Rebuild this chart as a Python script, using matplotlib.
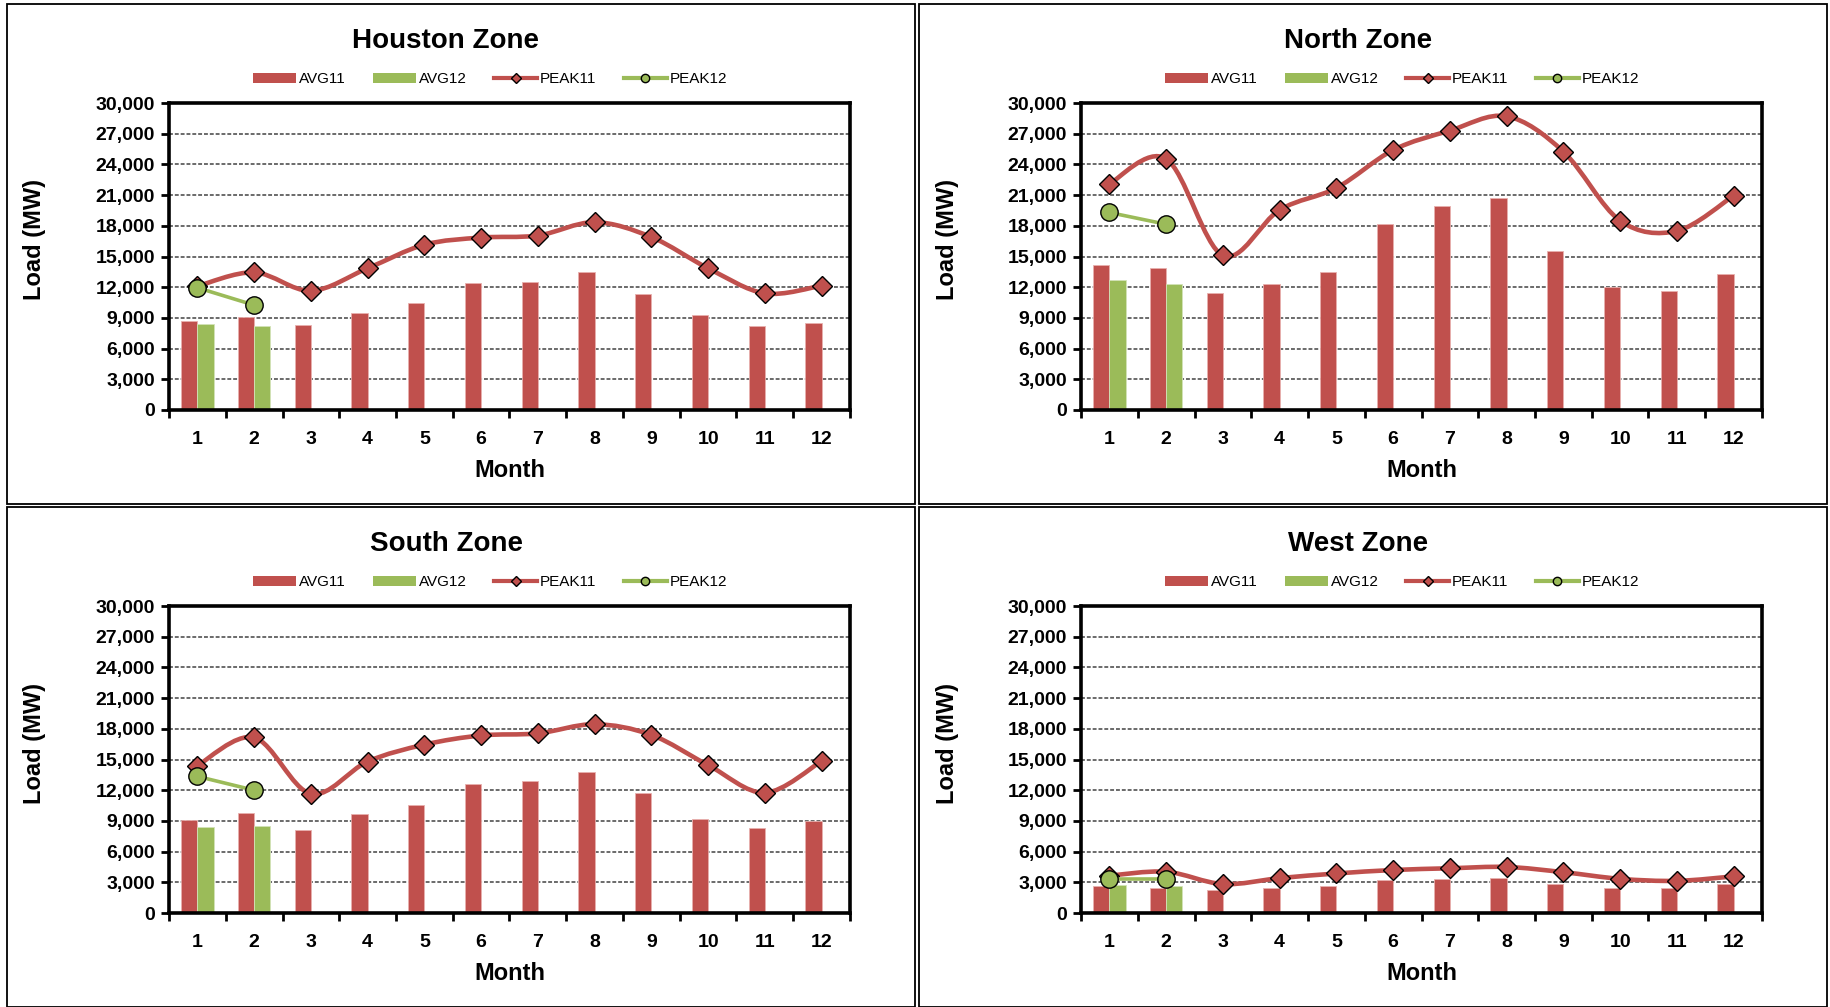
import matplotlib
matplotlib.use("Agg")
import matplotlib.pyplot as plt
from matplotlib.path import Path
from matplotlib.patches import PathPatch, Rectangle, Patch
from matplotlib.lines import Line2D
import numpy as np

plt.rcParams['font.family'] = ['Liberation Sans', 'DejaVu Sans']

RED = "#C0504D"
GREEN = "#9BBB59"

months = list(range(1, 13))
month_labels = [str(m) for m in months]
y_ticks = list(range(0, 30001, 3000))

zones = ["Houston Zone", "North Zone", "South Zone", "West Zone"]

houston_avg11 = [8650, 9050, 8300, 9500, 10450, 12400, 12550, 13450, 11350, 9250, 8250, 8500]
houston_avg12 = [8400, 8200]
houston_peak11 = [12100, 13450, 11650, 13850, 16150, 16850, 17050, 18350, 16900, 13850, 11400, 12150]
houston_peak12 = [11950, 10250]

north_avg11 = [14200, 13900, 11400, 12300, 13450, 18150, 19900, 20700, 15500, 12050, 11650, 13300]
north_avg12 = [12700, 12350]
north_peak11 = [22100, 24550, 15100, 19550, 21700, 25400, 27300, 28700, 25250, 18500, 17500, 20950]
north_peak12 = [19300, 18150]

south_avg11 = [9100, 9750, 8150, 9650, 10550, 12600, 12900, 13750, 11750, 9200, 8350, 9000]
south_avg12 = [8450, 8500]
south_peak11 = [14400, 17150, 11650, 14800, 16450, 17350, 17550, 18450, 17400, 14450, 11750, 14850]
south_peak12 = [13350, 12000]

west_avg11 = [2590, 2490, 2290, 2490, 2660, 3240, 3340, 3410, 2870, 2490, 2490, 2800]
west_avg12 = [2700, 2660]
west_peak11 = [3650, 4030, 2830, 3410, 3860, 4200, 4370, 4500, 3990, 3340, 3140, 3580]
west_peak12 = [3300, 3300]

zone_data = [
    (houston_avg11, houston_avg12, houston_peak11, houston_peak12),
    (north_avg11, north_avg12, north_peak11, north_peak12),
    (south_avg11, south_avg12, south_peak11, south_peak12),
    (west_avg11, west_avg12, west_peak11, west_peak12),
]

W, H = 1830, 1007
fig = plt.figure(figsize=(W / 100, H / 100), dpi=100)

# panel boxes (left, top) in pixels
panels = [(7, 4), (919, 4), (7, 507), (919, 507)]
PW, PH = 908, 500


def smooth_path(xs, ys):
    # Excel style smoothed line (Catmull-Rom as cubic Bezier)
    xs = np.asarray(xs, float)
    ys = np.asarray(ys, float)
    n = len(xs)
    verts = [(xs[0], ys[0])]
    codes = [Path.MOVETO]
    for i in range(n - 1):
        i0 = max(i - 1, 0)
        i3 = min(i + 2, n - 1)
        c1 = (xs[i] + (xs[i + 1] - xs[i0]) / 6, ys[i] + (ys[i + 1] - ys[i0]) / 6)
        c2 = (xs[i + 1] - (xs[i3] - xs[i]) / 6, ys[i + 1] - (ys[i3] - ys[i]) / 6)
        verts += [c1, c2, (xs[i + 1], ys[i + 1])]
        codes += [Path.CURVE4] * 3
    return Path(verts, codes)


for (pl, pt), title, (avg11, avg12, peak11, peak12) in zip(panels, zones, zone_data):
    fig.patches.append(Rectangle((pl / W, 1 - (pt + PH) / H), PW / W, PH / H,
                                 transform=fig.transFigure, fill=False,
                                 edgecolor="black", linewidth=1.3))

    left, right = pl + 162, pl + 843
    top, bottom = pt + 99, pt + 406
    ax = fig.add_axes([left / W, 1 - bottom / H, (right - left) / W, (bottom - top) / H])

    x = np.array(months)
    bw = 0.285
    ax.bar(x - bw / 2, avg11, width=bw, color=RED, edgecolor="#e8b0ae", linewidth=0.6, zorder=2)
    ax.bar(x[:len(avg12)] + bw / 2, avg12, width=bw, color=GREEN, edgecolor="#d3e3b8",
           linewidth=0.6, zorder=2)

    ax.add_patch(PathPatch(smooth_path(months, peak11), fill=False, edgecolor=RED,
                           linewidth=3.3, zorder=3, capstyle="round"))
    ax.plot(months, peak11, linestyle="none", marker="D", markersize=10,
            markerfacecolor=RED, markeredgecolor="black", markeredgewidth=1.0, zorder=4)
    ax.plot(months[:len(peak12)], peak12, color=GREEN, linewidth=2.6, marker="o",
            markersize=12.5, markerfacecolor=GREEN, markeredgecolor="black",
            markeredgewidth=1.0, zorder=5)

    ax.set_xlim(0.5, 12.5)
    ax.set_ylim(0, 30000)
    ax.set_yticks(y_ticks)
    ax.set_yticklabels([f"{v:,}" for v in y_ticks])
    ax.set_xticks(months)
    ax.set_xticklabels(month_labels)
    ax.set_xticks(np.arange(0.5, 13, 1), minor=True)
    ax.tick_params(axis="x", which="major", length=0, pad=15, labelsize=14)
    ax.tick_params(axis="x", which="minor", length=6, width=2, direction="out")
    ax.tick_params(axis="y", length=6, width=2, direction="out", pad=4, labelsize=14)
    for lab in ax.get_xticklabels() + ax.get_yticklabels():
        lab.set_fontweight("bold")
    for s in ax.spines.values():
        s.set_linewidth(2.6)
        s.set_color("black")
    ax.set_axisbelow(True)
    ax.grid(axis="y", color="#6a6a6a", linestyle=(0, (2, 1)), linewidth=1.4)

    fig.text((pl + 439) / W, 1 - (pt + 37) / H, title, ha="center", va="center",
             fontsize=20, fontweight="bold")
    fig.text((left + right) / 2 / W, 1 - (bottom + 60) / H, "Month", ha="center",
             va="center", fontsize=17, fontweight="bold")
    fig.text((pl + 28) / W, 1 - (pt + 236) / H, "Load (MW)", ha="center", va="center",
             rotation=90, fontsize=17, fontweight="bold")

    handles = [
        Patch(facecolor=RED, label="AVG11"),
        Patch(facecolor=GREEN, label="AVG12"),
        Line2D([], [], color=RED, linewidth=3, marker="D", markersize=5,
               markerfacecolor=RED, markeredgecolor="black", label="PEAK11"),
        Line2D([], [], color=GREEN, linewidth=3, marker="o", markersize=6,
               markerfacecolor=GREEN, markeredgecolor="black", label="PEAK12"),
    ]
    fig.legend(handles=handles, loc="center", ncol=4, frameon=False, fontsize=11,
               bbox_to_anchor=((pl + 483) / W, 1 - (pt + 75) / H),
               handlelength=2.8, handleheight=0.65, handletextpad=0.2, columnspacing=1.8)

fig.savefig("out.png", dpi=100)
